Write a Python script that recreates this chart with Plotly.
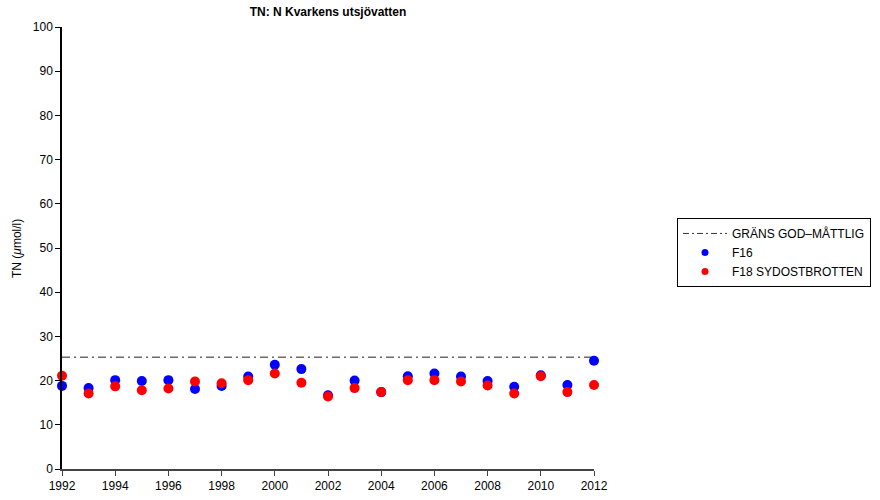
import plotly.graph_objects as go

years = list(range(1992, 2013))
f16 = [18.8, 18.3, 20.1, 19.9, 20.1, 18.1, 18.8, 20.9, 23.6, 22.6, 16.7,
       20.0, 17.4, 21.0, 21.6, 20.9, 19.9, 18.6, 21.2, 19.0, 24.5]
f18 = [21.1, 17.1, 18.7, 17.8, 18.2, 19.8, 19.4, 20.1, 21.6, 19.5, 16.4,
       18.3, 17.4, 20.1, 20.1, 19.8, 18.9, 17.1, 21.0, 17.4, 19.0]
limit_value = 25.3
limit_x = [1992, 2012]

FONT = "Liberation Sans, Arial, Helvetica, sans-serif"
DASH = "8px,4px,2px,4px"

fig = go.Figure()
# data traces (legend handled by proxy traces with smaller symbols)
fig.add_trace(go.Scatter(
    x=limit_x, y=[limit_value, limit_value], mode="lines",
    name="GRÄNS GOD\u2013MÅTTLIG", showlegend=False,
    line=dict(color="#222222", width=1, dash=DASH), cliponaxis=False))
fig.add_trace(go.Scatter(
    x=years, y=f16, mode="markers", name="F16", showlegend=False,
    marker=dict(color="#0000ff", size=10), cliponaxis=False))
fig.add_trace(go.Scatter(
    x=years, y=f18, mode="markers", name="F18 SYDOSTBROTTEN", showlegend=False,
    marker=dict(color="#ff0000", size=10), cliponaxis=False))

# legend proxies
fig.add_trace(go.Scatter(x=[None], y=[None], mode="lines",
                         name="GRÄNS GOD\u2013MÅTTLIG",
                         line=dict(color="#333333", width=1, dash="6px,3px,2px,3px")))
fig.add_trace(go.Scatter(x=[None], y=[None], mode="markers", name="F16",
                         marker=dict(color="#0000ff", size=7)))
fig.add_trace(go.Scatter(x=[None], y=[None], mode="markers",
                         name="F18 SYDOSTBROTTEN",
                         marker=dict(color="#ff0000", size=7)))

fig.update_layout(
    width=880, height=500,
    margin=dict(l=62, r=286, t=27, b=31, autoexpand=False),
    paper_bgcolor="white", plot_bgcolor="white",
    font=dict(family=FONT, size=12, color="black"),
    title=dict(text="<b>TN: N Kvarkens utsjövatten</b>", x=0.5, xref="paper",
               xanchor="center", y=1 - 12 / 500, yanchor="middle",
               font=dict(size=12, family=FONT, color="black")),
    showlegend=True,
    legend=dict(x=1.156, y=0.568, xanchor="left", yanchor="top",
                bordercolor="black", borderwidth=1, bgcolor="white",
                font=dict(size=12, family=FONT, color="black"),
                tracegroupgap=0, itemsizing="trace", itemwidth=44),
    annotations=[dict(text="TN (<i>μ</i>mol/l)", textangle=-90,
                      x=-0.0846, y=0.5, xref="paper", yref="paper",
                      xanchor="center", yanchor="middle", showarrow=False,
                      font=dict(size=12, family=FONT, color="black"))],
)
fig.update_xaxes(range=[1992, 2012], tickmode="array",
                 tickvals=list(range(1992, 2013, 2)),
                 showgrid=False, zeroline=False, showline=True,
                 linecolor="#444444", linewidth=1.5, ticks="outside",
                 ticklen=5, tickcolor="#444444", tickwidth=1,
                 tickfont=dict(size=12, family=FONT, color="black"),
                 automargin=False)
fig.update_yaxes(range=[0, 100], tickmode="array",
                 tickvals=list(range(0, 101, 10)),
                 showgrid=False, zeroline=False, showline=True,
                 linecolor="black", linewidth=1.5, ticks="outside",
                 ticklen=5, tickcolor="black", tickwidth=1,
                 tickfont=dict(size=12, family=FONT, color="black"),
                 automargin=False)

fig.write_html("out.html", config={"displayModeBar": False},
               post_script="document.body.style.margin='0';"
                           "document.body.style.overflow='hidden';")
